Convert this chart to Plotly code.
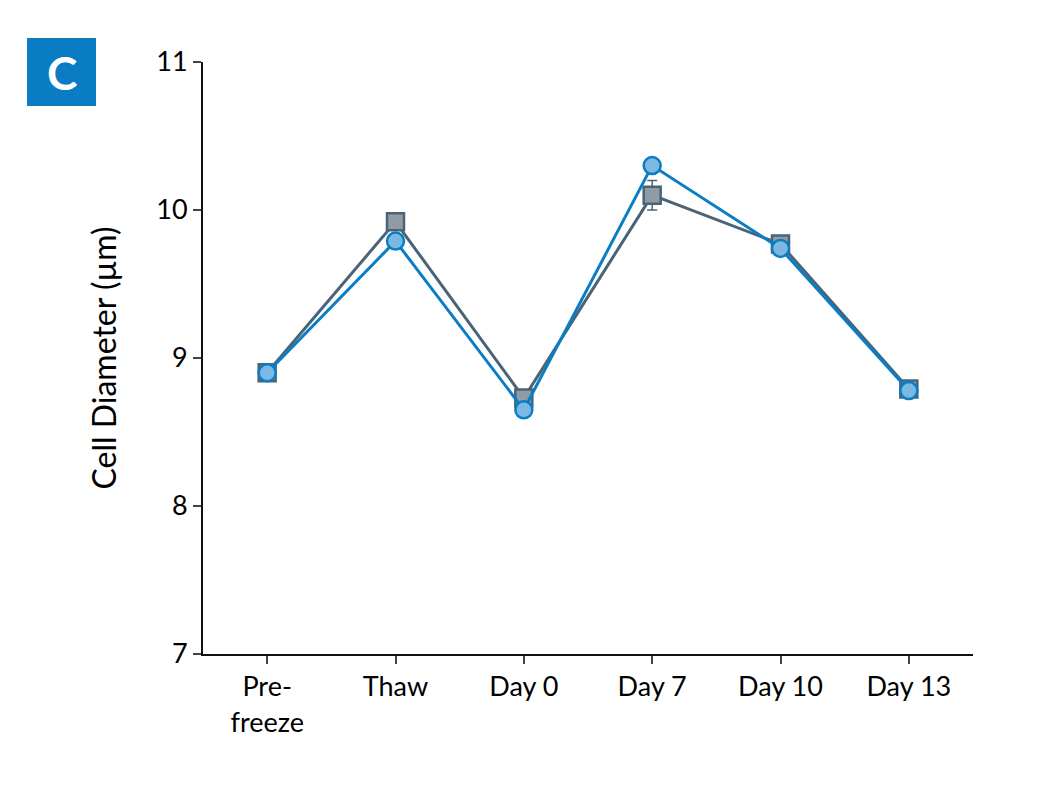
import plotly.graph_objects as go

# ==== DATA ====
TIMEPOINTS = ["Pre-<br>freeze", "Thaw", "Day 0", "Day 7", "Day 10", "Day 13"]
SERIES = {
    "gray": dict(y=[8.90, 9.92, 8.73, 10.10, 9.77, 8.79], err=[0.02, 0.03, 0.03, 0.10, 0.03, 0.02],
                 line="#4b6475", fill="#8f9ba7", symbol="square"),
    "blue": dict(y=[8.90, 9.79, 8.65, 10.30, 9.74, 8.78], err=[0.02, 0.02, 0.02, 0.03, 0.02, 0.02],
                 line="#0b7dc4", fill="#7db8e3", symbol="circle"),
}

fig = go.Figure()
for name, s in SERIES.items():
    fig.add_trace(go.Scatter(
        x=list(range(len(TIMEPOINTS))), y=s["y"], name=name,
        mode="lines+markers",
        line=dict(color=s["line"], width=3),
        marker=dict(symbol=s["symbol"], size=17, color=s["fill"],
                    line=dict(color=s["line"], width=2.5)),
        error_y=dict(type="data", array=s["err"], color=s["line"], thickness=1.5, width=5),
    ))

fig.update_layout(
    width=1053, height=800,
    template="simple_white",
    showlegend=False,
    font=dict(family="Lato, Liberation Sans, sans-serif", size=27, color="#000"),
    margin=dict(l=195, r=88, t=54, b=154),
    xaxis=dict(range=[-0.5, 5.5], tickvals=list(range(6)), ticktext=TIMEPOINTS,
               ticks="outside", ticklen=8, tickwidth=2, linewidth=2, linecolor="#111",
               showgrid=False, tickfont=dict(size=27)),
    yaxis=dict(range=[7, 11], dtick=1, ticks="outside", ticklen=8, tickwidth=2,
               linewidth=2, linecolor="#111", showgrid=False,
               title=dict(text="Cell Diameter (µm)", standoff=30), tickfont=dict(size=27)),
)

# panel letter
fig.add_shape(type="rect", xref="paper", yref="paper", x0=-176/770, x1=-107/770,
              y0=1 + 24/592, y1=1 - 44/592, fillcolor="#0a7cc4", line_width=0,
              opacity=1, layer="above")
fig.add_annotation(text="<b>C</b>", xref="paper", yref="paper", x=-141.5/770, y=1 - 10/592,
                   xanchor="center", yanchor="middle", showarrow=False,
                   font=dict(color="white", size=46, family="Lato, sans-serif"))

fig.write_html("out.html")
